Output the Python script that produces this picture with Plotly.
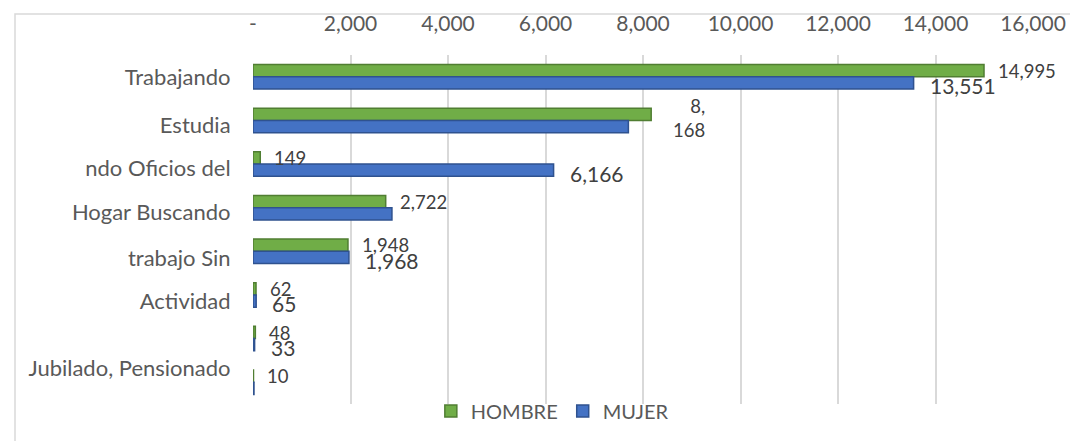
import plotly.graph_objects as go

# ---------------- data ----------------
categories = ["Trabajando", "Estudia", "ndo Oficios del", "Hogar Buscando",
              "trabajo Sin", "Actividad", "", "Jubilado, Pensionado"]
hombre = [14995, 8168, 149, 2722, 1948, 62, 48, 10]
mujer = [13551, 7700, 6166, 2850, 1968, 65, 33, 20]
hombre_label_shown = [True, True, True, True, True, True, True, True]
mujer_label_shown = [True, False, True, False, True, True, True, False]
x_tick_values = [0, 2000, 4000, 6000, 8000, 10000, 12000, 14000, 16000]
x_tick_labels = ["-", "2,000", "4,000", "6,000", "8,000", "10,000",
                 "12,000", "14,000", "16,000"]

# ---------------- style ----------------
GREEN, GREEN_LINE = "#70AD47", "#507E32"
BLUE, BLUE_LINE = "#4472C4", "#2F528F"
AXIS_TXT = "#595959"
LBL_TXT = "#404040"
FONT = "Lato"
label_offsets = [0.0, 0.1, 0.1, 0.1, 0.15, 0.14, 0.0, -0.32]
wrapped_hombre = {1}

L, R, T, B = 245, 53, 47, 45
W, H = 1078, 441
PW, PH = W - L - R, H - T - B

rows = list(range(len(categories)))

fig = go.Figure()
fig.add_trace(go.Bar(
    x=hombre, y=rows, orientation="h", name="HOMBRE",
    marker=dict(color=GREEN, line=dict(color=GREEN_LINE, width=1.5)),
    hoverinfo="skip"))
fig.add_trace(go.Bar(
    x=mujer, y=rows, orientation="h", name="MUJER",
    marker=dict(color=BLUE, line=dict(color=BLUE_LINE, width=1.5)),
    hoverinfo="skip"))

annotations = []
for i, v in enumerate(hombre):
    if not hombre_label_shown[i]:
        continue
    txt = f"{v:,}"
    if i in wrapped_hombre:
        txt = txt.replace(",", ",<br>")
        annotations.append(dict(x=v, y=i, xref="x", yref="y", text=txt,
                                showarrow=False, xanchor="left", yanchor="middle",
                                xshift=20, yshift=2, align="right",
                                font=dict(family=FONT, size=18.5, color=LBL_TXT)))
    else:
        annotations.append(dict(x=v, y=i, xref="x", yref="y", text=txt,
                                showarrow=False, xanchor="left", yanchor="middle",
                                xshift=12, yshift=6,
                                font=dict(family=FONT, size=18.5, color=LBL_TXT)))
for i, v in enumerate(mujer):
    if not mujer_label_shown[i]:
        continue
    annotations.append(dict(x=v, y=i, xref="x", yref="y", text=f"{v:,}",
                            showarrow=False, xanchor="left", yanchor="middle",
                            xshift=14, yshift=-9,
                            font=dict(family=FONT, size=21, color=LBL_TXT)))

# outer frame (only top and left edges fall inside the picture)
fx0 = (7 - L) / PW
fx1 = (W + 20 - L) / PW
fy1 = (H - B - 6) / PH
fy0 = (H - B - (H + 20)) / PH

fig.update_layout(
    width=W, height=H,
    margin=dict(l=L, r=R, t=T, b=B, autoexpand=False),
    paper_bgcolor="white", plot_bgcolor="white",
    barmode="group", bargap=0.44, bargroupgap=0,
    font=dict(family=FONT, color=AXIS_TXT),
    showlegend=True,
    legend=dict(orientation="h", x=0.228, xanchor="left", y=-0.02,
                yanchor="middle", font=dict(family=FONT, size=20, color=AXIS_TXT),
                bgcolor="rgba(0,0,0,0)"),
    annotations=annotations,
    shapes=[dict(type="rect", xref="paper", yref="paper",
                 x0=fx0, x1=fx1, y0=fy0, y1=fy1,
                 line=dict(color="#D9D9D9", width=1.5), fillcolor="rgba(0,0,0,0)",
                 layer="below")],
)
fig.update_xaxes(
    side="top", range=[0, 16000], tickvals=x_tick_values, ticktext=x_tick_labels,
    showgrid=True, gridcolor="#D9D9D9", gridwidth=1.5,
    zeroline=True, zerolinecolor="rgba(0,0,0,0)",
    showline=False, ticks="outside", ticklen=15, tickcolor="rgba(0,0,0,0)",
    tickfont=dict(family=FONT, size=21, color=AXIS_TXT), fixedrange=True,
    automargin=False)
fig.update_yaxes(
    range=[len(categories) - 0.5, -0.5],
    tickvals=[r + o for r, o in zip(rows, label_offsets)], ticktext=categories,
    showgrid=False, zeroline=False, showline=False,
    ticks="outside", ticklen=17, tickcolor="rgba(0,0,0,0)",
    tickfont=dict(family=FONT, size=22, color=AXIS_TXT), fixedrange=True,
    automargin=False)

fig.write_html("out.html")
